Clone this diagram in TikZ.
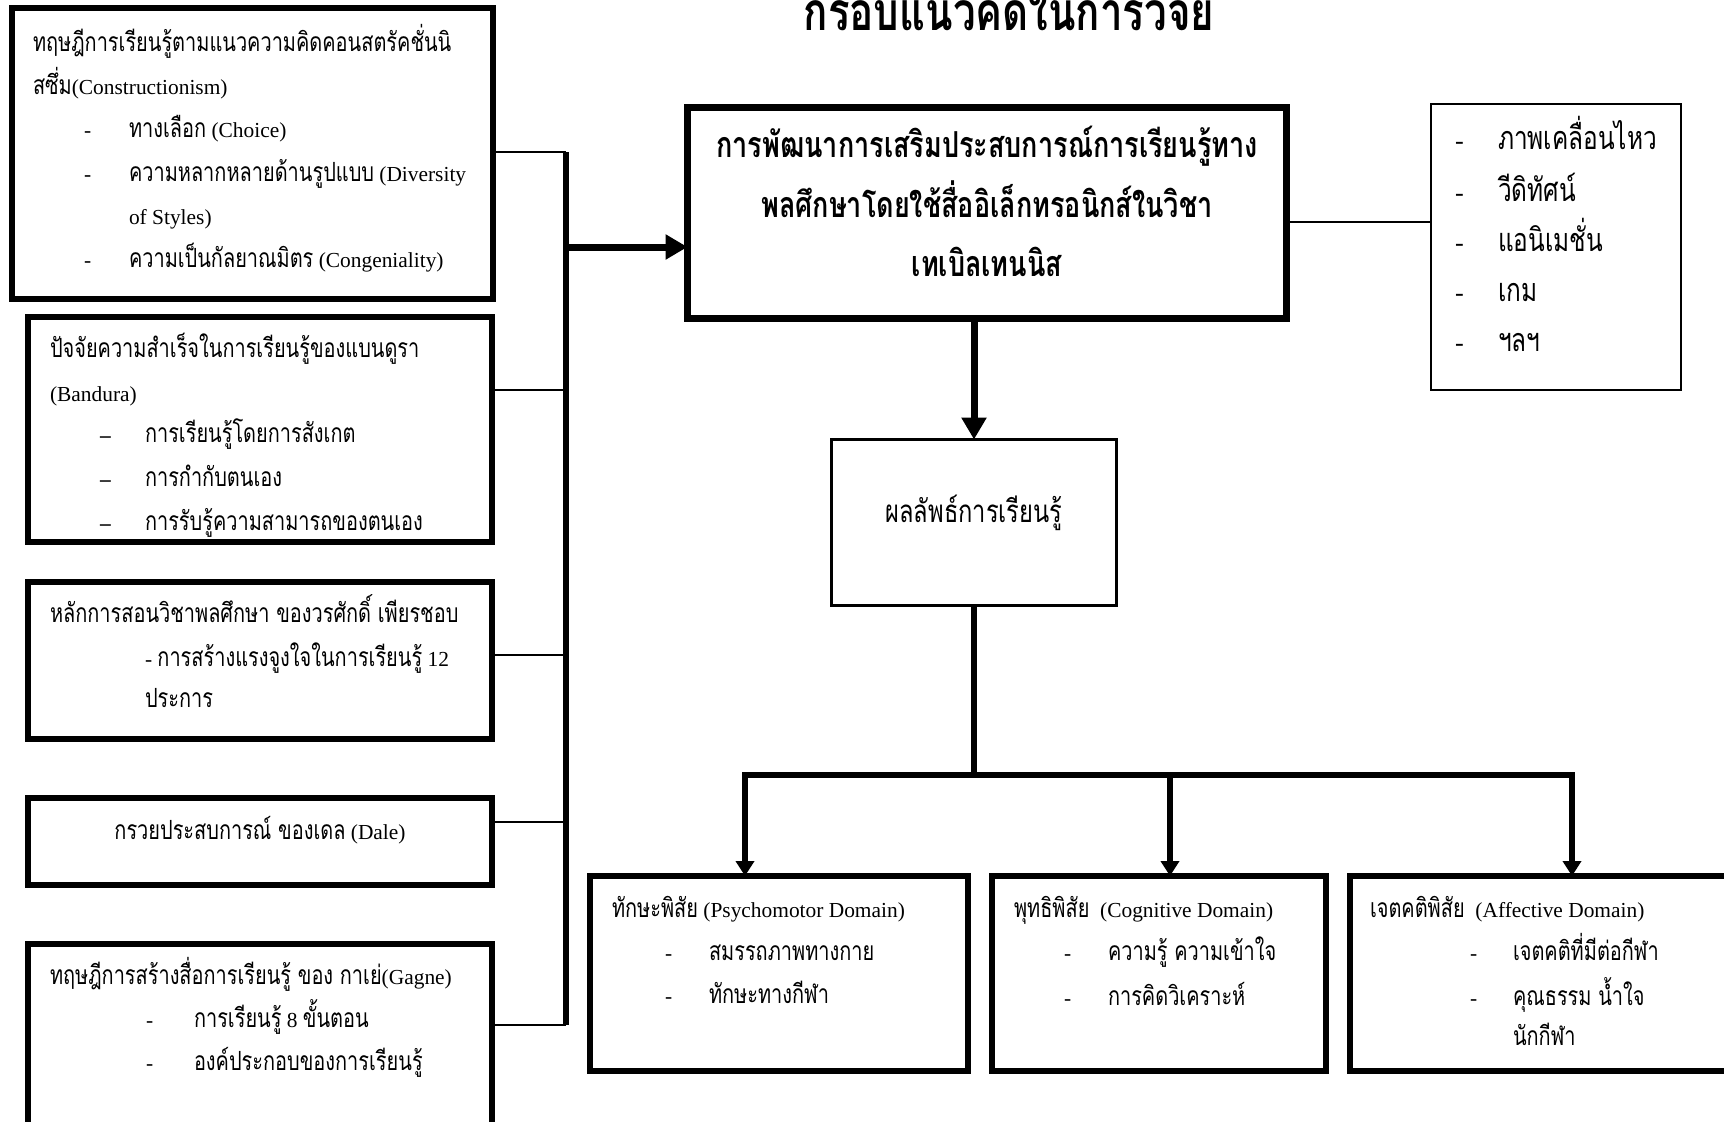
\documentclass[tikz,border=0pt]{standalone}
\usepackage{fontspec}
\setmainfont{Liberation Serif}
\newfontfamily\thaifont[Script=Thai,Scale=1.234,FakeStretch=0.755]{Loma}
\usetikzlibrary{arrows.meta,fit}
\newcommand\tx[1]{{\thaifont #1}}
\newcommand\tl[4]{\node[txt] (#1) at (#2,#3) {#4};}
\tikzset{
  txt/.style={inner sep=0pt,outer sep=0pt,anchor=base west,font=\fontsize{10.7}{13}\selectfont},
  thickbox/.style={draw,line width=3pt,inner sep=0pt,outer sep=0pt},
  mainbox/.style={draw,line width=3.5pt,inner sep=0pt,outer sep=0pt},
  thinbox/.style={draw,line width=1.3pt,inner sep=0pt,outer sep=0pt},
  thinline/.style={line width=1pt},
  thickline/.style={line width=3pt},
  bigarrow/.style={line width=3.5pt,-{Triangle[length=11pt,width=12pt]}},
  smallarrow/.style={line width=3pt,-{Triangle[length=7.5pt,width=9pt]}},
}
\begin{document}
\begin{tikzpicture}[x=0.5pt,y=-0.5pt]
\clip (0,0) rectangle (1724,1121);
\fill[white] (0,0) rectangle (1724,1121);
\useasboundingbox (0,0) rectangle (1724,1121);

% title
\node[inner sep=0pt,anchor=base,font=\fontsize{21.6}{26}\selectfont\bfseries] (title) at (1009,30) {\tx{กรอบแนวคิดในการวิจัย}};

% left boxes
\node[thickbox,fit={(12,8) (493,299)}] (b1) {};
\node[thickbox,fit={(28,317) (492,542)}] (b2) {};
\node[thickbox,fit={(28,582) (492,739)}] (b3) {};
\node[thickbox,fit={(28,798) (492,885)}] (b4) {};
\node[thickbox,fit={(28,944) (492,1140)}] (b5) {};

% main, right, outcome
\node[mainbox,fit={(687.5,107.5) (1286.5,318.5)}] (main) {};
\node[thinbox,fit={(1431,104) (1681,390)}] (media) {};
\node[thinbox,fit={(831.5,439.5) (1116.5,605.5)}] (out) {};

% bottom boxes
\node[thickbox,fit={(590,876) (968,1071)}] (d1) {};
\node[thickbox,fit={(992,876) (1326,1071)}] (d2) {};
\node[thickbox,fit={(1350,876) (1732,1071)}] (d3) {};

% bus and connectors
\coordinate (j1) at (566,152);
\coordinate (j2) at (566,390);
\coordinate (j3) at (566,655);
\coordinate (j4) at (566,822);
\coordinate (j5) at (566,1025);
\coordinate (jin) at (566,247);
\draw[thickline] (j1) -- (j5);
\draw[thinline] (j1) -- (j1 -| b1.east);
\draw[thinline] (j2) -- (j2 -| b2.east);
\draw[thinline] (j3) -- (j3 -| b3.east);
\draw[thinline] (j4) -- (j4 -| b4.east);
\draw[thinline] (j5) -- (j5 -| b5.east);
\draw[bigarrow] (jin) -- (jin -| main.west);

\coordinate (jm) at (1289,222);
\draw[thinline] (jm -| main.east) -- (jm -| media.west);

\draw[bigarrow] (out.north |- main.south) -- (out.north);
\coordinate (split) at (974,775);
\coordinate (sl) at (745,775);
\coordinate (sm) at (1170,775);
\coordinate (sr) at (1572,775);
\draw[thickline] (out.south) -- (split);
\draw[thickline,line cap=rect] (sl) -- (sr);
\draw[smallarrow] (sl) -- (sl |- d1.north);
\draw[smallarrow] (sm) -- (sm |- d2.north);
\draw[smallarrow] (sr) -- (sr |- d3.north);

% box 1 text
\tl{t1a}{33}{51}{\tx{ทฤษฎีการเรียนรู้ตามแนวความคิดคอนสตรัคชั่นนิ}}
\tl{t1b}{33}{94}{\tx{สซึ่ม}(Constructionism)}
\tl{d1a}{84}{137}{-}\tl{t1c}{129}{137}{\tx{ทางเลือก} (Choice)}
\tl{d1b}{84}{181}{-}\tl{t1d}{129}{181}{\tx{ความหลากหลายด้านรูปแบบ} (Diversity}
\tl{t1e}{129}{224}{of Styles)}
\tl{d1c}{84}{267}{-}\tl{t1f}{129}{267}{\tx{ความเป็นกัลยาณมิตร} (Congeniality)}

% box 2 text
\tl{t2a}{50}{357}{\tx{ปัจจัยความสำเร็จในการเรียนรู้ของแบนดูรา}}
\tl{t2b}{50}{401}{(Bandura)}
\tl{d2a}{100}{442}{\textbf{–}}\tl{t2c}{145}{442}{\tx{การเรียนรู้โดยการสังเกต}}
\tl{d2b}{100}{486}{\textbf{–}}\tl{t2d}{145}{486}{\tx{การกำกับตนเอง}}
\tl{d2c}{100}{530}{\textbf{–}}\tl{t2e}{145}{530}{\tx{การรับรู้ความสามารถของตนเอง}}

% box 3 text
\tl{t3a}{50}{622}{\tx{หลักการสอนวิชาพลศึกษา ของวรศักดิ์ เพียรชอบ}}
\tl{t3b}{145}{666}{- \tx{การสร้างแรงจูงใจในการเรียนรู้} 12}
\tl{t3c}{145}{707}{\tx{ประการ}}

% box 4 text
\node[txt,anchor=base] (t4a) at (260,839) {\tx{กรวยประสบการณ์ ของเดล} (Dale)};

% box 5 text
\tl{t5a}{50}{984}{\tx{ทฤษฎีการสร้างสื่อการเรียนรู้ ของ กาเย่}(Gagne)}
\tl{d5a}{146}{1027}{-}\tl{t5b}{194}{1027}{\tx{การเรียนรู้} 8 \tx{ขั้นตอน}}
\tl{d5b}{146}{1070}{-}\tl{t5c}{194}{1070}{\tx{องค์ประกอบของการเรียนรู้}}

% main text
\tikzset{btxt/.style={inner sep=0pt,anchor=base,font=\fontsize{14.5}{18}\selectfont\bfseries}}
\node[btxt] (m1) at (987,157) {\tx{การพัฒนาการเสริมประสบการณ์การเรียนรู้ทาง}};
\node[btxt] (m2) at (987,217) {\tx{พลศึกษาโดยใช้สื่ออิเล็กทรอนิกส์ในวิชา}};
\node[btxt] (m3) at (987,276) {\tx{เทเบิลเทนนิส}};

% media text
\tikzset{mtxt/.style={txt,font=\fontsize{13.1}{16}\selectfont}}
\node[mtxt] (e1d) at (1455,149) {-}; \node[mtxt] (e1) at (1498,149) {\tx{ภาพเคลื่อนไหว}};
\node[mtxt] (e2d) at (1455,201) {-}; \node[mtxt] (e2) at (1498,201) {\tx{วีดิทัศน์}};
\node[mtxt] (e3d) at (1455,251) {-}; \node[mtxt] (e3) at (1498,251) {\tx{แอนิเมชั่น}};
\node[mtxt] (e4d) at (1455,301) {-}; \node[mtxt] (e4) at (1498,301) {\tx{เกม}};
\node[mtxt] (e5d) at (1455,351) {-}; \node[mtxt] (e5) at (1498,351) {\tx{ฯลฯ}};

% outcome text
\node[txt,anchor=base,font=\fontsize{12.7}{16}\selectfont] (o1) at (974,522) {\tx{ผลลัพธ์การเรียนรู้}};

% domain texts
\tl{p1}{612}{917}{\tx{ทักษะพิสัย} (Psychomotor Domain)}
\tl{p2d}{665}{960}{-}\tl{p2}{709}{960}{\tx{สมรรถภาพทางกาย}}
\tl{p3d}{665}{1003}{-}\tl{p3}{709}{1003}{\tx{ทักษะทางกีฬา}}

\tl{c1}{1014}{917}{\tx{พุทธิพิสัย}\ \ (Cognitive Domain)}
\tl{c2d}{1064}{960}{-}\tl{c2}{1108}{960}{\tx{ความรู้ ความเข้าใจ}}
\tl{c3d}{1064}{1005}{-}\tl{c3}{1108}{1005}{\tx{การคิดวิเคราะห์}}

\tl{a1}{1370}{917}{\tx{เจตคติพิสัย}\ \ (Affective Domain)}
\tl{a2d}{1470}{960}{-}\tl{a2}{1513}{960}{\tx{เจตคติที่มีต่อกีฬา}}
\tl{a3d}{1470}{1005}{-}\tl{a3}{1513}{1005}{\tx{คุณธรรม น้ำใจ}}
\tl{a4}{1513}{1045}{\tx{นักกีฬา}}
\end{tikzpicture}
\end{document}
